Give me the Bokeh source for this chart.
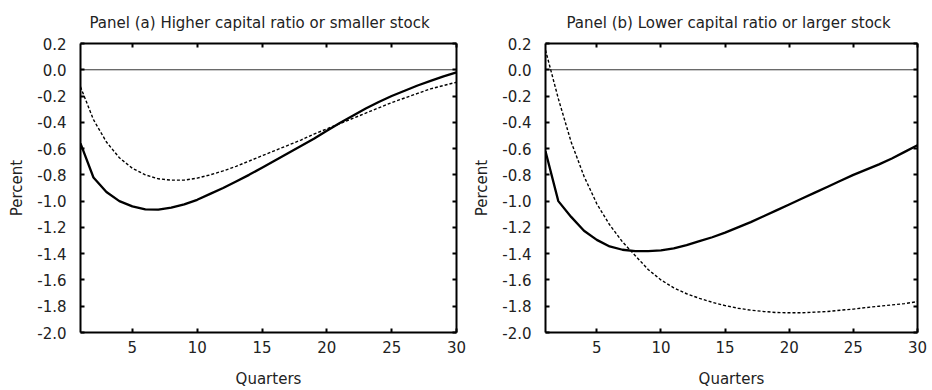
from bokeh.plotting import figure
from bokeh.layouts import row
from bokeh.models import (Range1d, FixedTicker, NumeralTickFormatter, LinearAxis, Span,
                          CustomLabelingPolicy)
from bokeh.embed import file_html
from bokeh.resources import INLINE

quarters = [1, 2, 3, 4, 5, 6, 7, 8, 9, 10, 11, 12, 13, 14, 15,
            16, 17, 18, 19, 20, 21, 22, 23, 24, 25, 26, 27, 28, 29, 30]

a_solid = [-0.56, -0.82, -0.93, -1.00, -1.04, -1.063, -1.065, -1.05, -1.025, -0.99,
           -0.945, -0.90, -0.85, -0.80, -0.745, -0.69, -0.635, -0.58, -0.525, -0.465,
           -0.405, -0.35, -0.295, -0.245, -0.20, -0.16, -0.12, -0.085, -0.05, -0.02]
a_dashed = [-0.13, -0.38, -0.55, -0.67, -0.75, -0.80, -0.83, -0.84, -0.84, -0.825,
            -0.80, -0.77, -0.735, -0.695, -0.655, -0.615, -0.575, -0.535, -0.49, -0.45,
            -0.41, -0.37, -0.33, -0.29, -0.25, -0.215, -0.18, -0.145, -0.12, -0.095]

b_solid = [-0.62, -1.00, -1.12, -1.225, -1.295, -1.345, -1.37, -1.38, -1.38, -1.375,
           -1.36, -1.335, -1.305, -1.275, -1.24, -1.20, -1.16, -1.115, -1.07, -1.025,
           -0.98, -0.935, -0.89, -0.845, -0.80, -0.76, -0.72, -0.675, -0.625, -0.575]
b_dashed = [0.15, -0.22, -0.55, -0.81, -1.02, -1.18, -1.31, -1.415, -1.52, -1.60,
            -1.66, -1.705, -1.74, -1.77, -1.795, -1.815, -1.83, -1.84, -1.848, -1.85,
            -1.85, -1.845, -1.84, -1.83, -1.822, -1.81, -1.80, -1.79, -1.78, -1.765]

x_ticks = [5, 10, 15, 20, 25, 30]
y_ticks = [0.2, 0.0, -0.2, -0.4, -0.6, -0.8, -1.0, -1.2, -1.4, -1.6, -1.8, -2.0]

titles = ["Panel (a) Higher capital ratio or smaller stock",
          "Panel (b) Lower capital ratio or larger stock"]
x_label = "Quarters"
y_label = "Percent"

FONT = "DejaVu Sans"
TXT = "#222222"
AX = "black"

NO_LABELS = CustomLabelingPolicy(code="""
for (const i of Array.from(indices)) { indices.unset(i) }
return indices
""")


def style_axis(ax, ticks, show_labels):
    ax.ticker = FixedTicker(ticks=ticks)
    ax.major_tick_in = 4
    ax.major_tick_out = 0
    ax.minor_tick_line_color = None
    ax.axis_line_color = AX
    ax.axis_line_width = 2
    ax.major_tick_line_color = AX
    ax.major_tick_line_width = 2
    if show_labels:
        ax.major_label_text_font = FONT
        ax.major_label_text_font_size = "15px"
        ax.major_label_text_color = TXT
        ax.axis_label_text_font = FONT
        ax.axis_label_text_font_size = "15px"
        ax.axis_label_text_font_style = "normal"
        ax.axis_label_text_color = TXT
    else:
        ax.major_label_text_font_size = "0px"
        ax.major_label_policy = NO_LABELS
        ax.major_label_standoff = 0


def make(title, solid, dashed, width, left, right, title_offset):
    p = figure(width=width, height=390,
               x_range=Range1d(1, 30), y_range=Range1d(-2.0, 0.2),
               output_backend="svg", toolbar_location=None,
               min_border_left=left, min_border_right=right,
               min_border_top=43, min_border_bottom=58)
    p.title.text = title
    p.title.text_font = FONT
    p.title.text_font_size = "15px"
    p.title.text_font_style = "normal"
    p.title.text_color = TXT
    p.title.align = "left"
    p.title.offset = title_offset
    p.title.standoff = 23
    p.grid.visible = False
    p.outline_line_color = None

    xa = p.xaxis[0]
    style_axis(xa, x_ticks, True)
    xa.axis_label = x_label
    xa.major_label_standoff = 8
    xa.axis_label_standoff = 14

    ya = p.yaxis[0]
    style_axis(ya, y_ticks, True)
    ya.formatter = NumeralTickFormatter(format="0.0")
    ya.axis_label = y_label
    ya.major_label_standoff = 14
    ya.axis_label_standoff = 8

    top = LinearAxis()
    style_axis(top, x_ticks, False)
    p.add_layout(top, "above")
    rt = LinearAxis()
    style_axis(rt, y_ticks, False)
    p.add_layout(rt, "right")

    p.add_layout(Span(location=0, dimension="width", line_color="black", line_width=1,
                      line_alpha=0.8))

    p.line(quarters, dashed, line_color="black", line_width=1.4, line_dash="3 2")
    p.line(quarters, solid, line_color="black", line_width=2.3)
    return p


pa = make(titles[0], a_solid, a_dashed, 470, 80, 14, 9)
pb = make(titles[1], b_solid, b_dashed, 462, 75, 15, 21)

layout = row(pa, pb, spacing=0)
open("out.html", "w").write(file_html(layout, INLINE))
